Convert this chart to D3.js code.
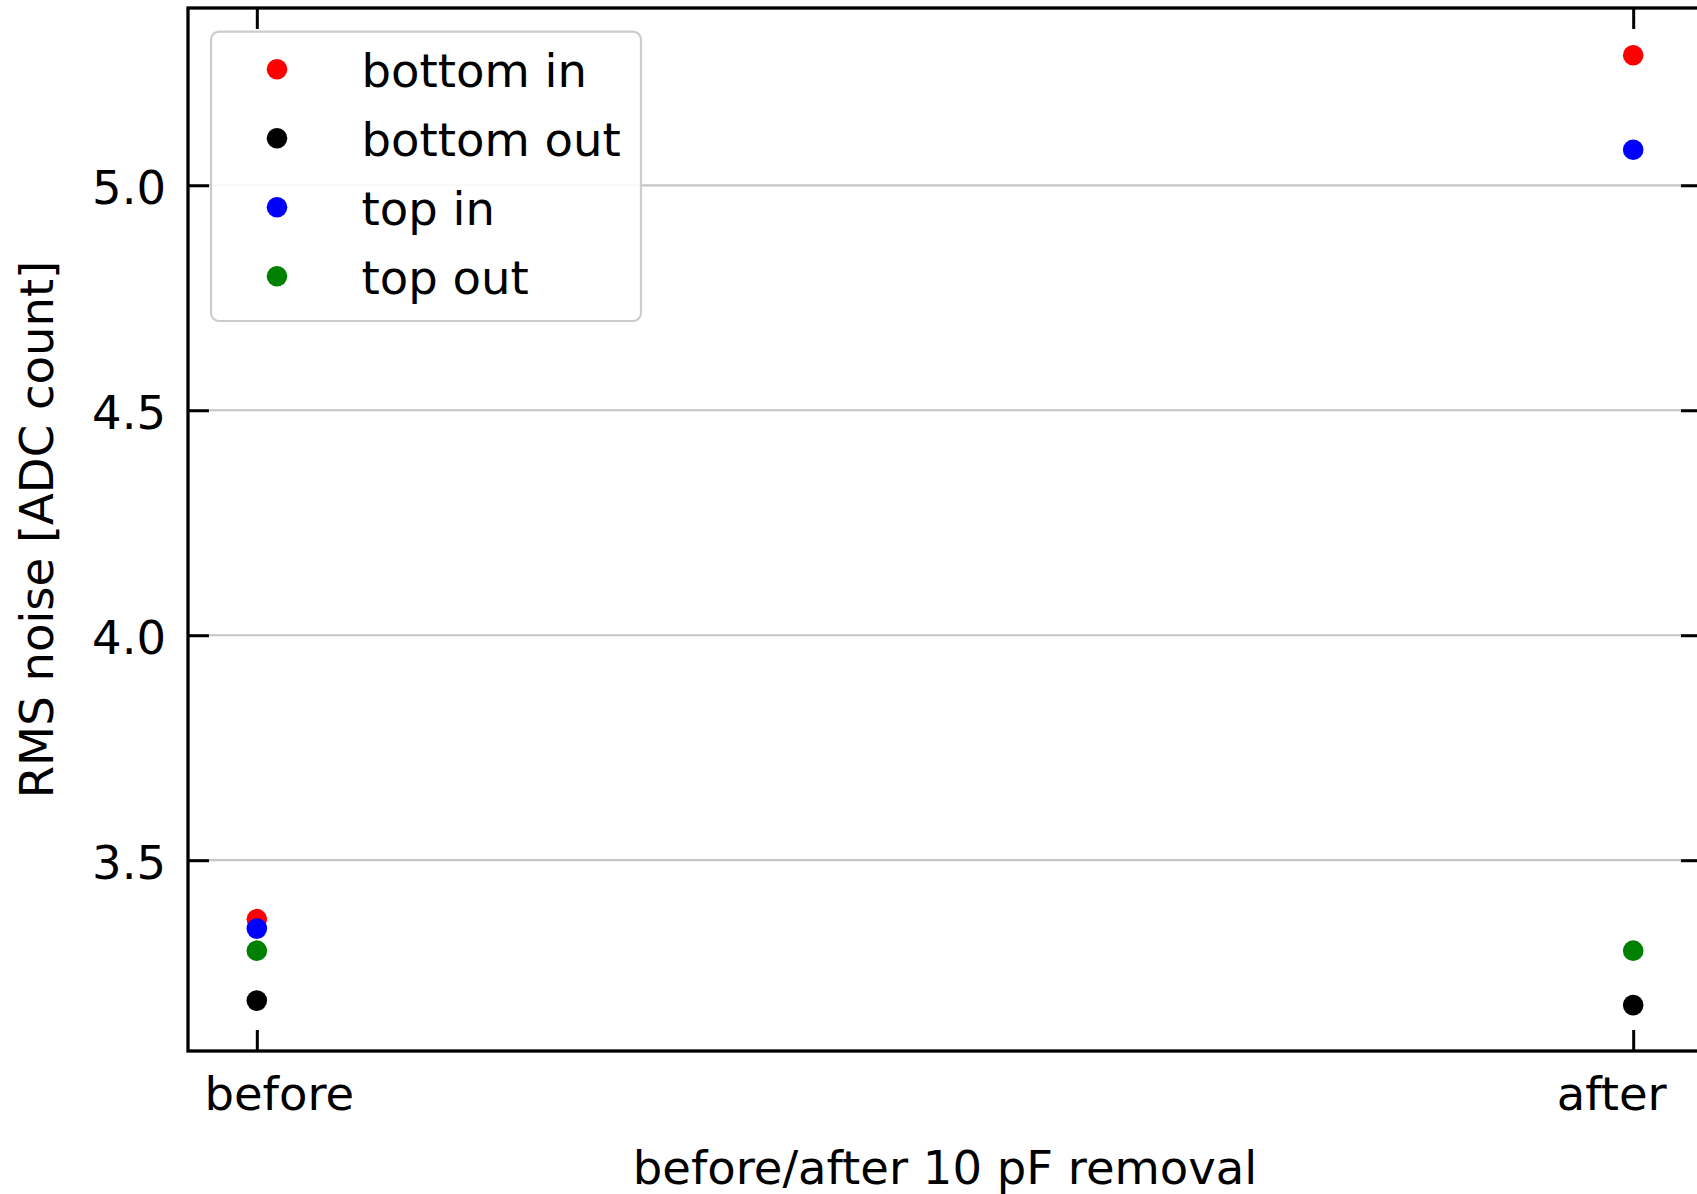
<!DOCTYPE html>
<html>
<head>
<meta charset="utf-8">
<script src="https://cdn.jsdelivr.net/npm/d3@7"></script>
<style>
  html, body { margin: 0; padding: 0; background: #fff; }
  svg { display: block; }
  text { font-family: "DejaVu Sans", sans-serif; fill: #000; }
</style>
</head>
<body>
<svg id="chart" width="1697" height="1194"></svg>
<script>
// Measurement conditions on the x axis
const categories = ["before", "after"];

// RMS noise per channel group [ADC count]
const seriesNames = ["bottom in", "bottom out", "top in", "top out"];
const bottomIn  = [3.369, 5.289];
const bottomOut = [3.188, 3.178];
const topIn     = [3.348, 5.079];
const topOut    = [3.299, 3.299];

const yTickValues = [3.5, 4.0, 4.5, 5.0];
const yTickLabels = ["3.5", "4.0", "4.5", "5.0"];

const seriesColors = ["#ff0000", "#000000", "#0000ff", "#008000"];
const seriesValues = [bottomIn, bottomOut, topIn, topOut];

const xLabel = "before/after 10 pF removal";
const yLabel = "RMS noise [ADC count]";

// ---- layout ----
const svg = d3.select("#chart");
const plot = { left: 188, right: 1702, top: 8, bottom: 1051 };
const fontSize = 46.5;
const tickLen = 21;
const spineW = 3.3;

const x = d3.scalePoint()
  .domain(categories)
  .range([plot.left, plot.right])
  .padding(0.05);

const y = d3.scaleLinear()
  .domain([3.076, 5.394])
  .range([plot.bottom, plot.top]);

// horizontal grid lines
svg.append("g")
  .selectAll("line")
  .data(yTickValues)
  .join("line")
  .attr("x1", plot.left)
  .attr("x2", plot.right)
  .attr("y1", d => y(d))
  .attr("y2", d => y(d))
  .attr("stroke", "#b0b0b0")
  .attr("stroke-opacity", 0.75)
  .attr("stroke-width", 2.2);

// data points
const points = [];
seriesValues.forEach((vals, si) => {
  vals.forEach((v, ci) => points.push({ cat: categories[ci], v, color: seriesColors[si] }));
});
svg.append("g")
  .selectAll("circle")
  .data(points)
  .join("circle")
  .attr("cx", d => x(d.cat))
  .attr("cy", d => y(d.v))
  .attr("r", 10.3)
  .attr("fill", d => d.color);

// legend
const legend = svg.append("g");
legend.append("rect")
  .attr("x", 211)
  .attr("y", 31.7)
  .attr("width", 430)
  .attr("height", 289.3)
  .attr("rx", 8)
  .attr("fill", "#ffffff")
  .attr("fill-opacity", 0.9)
  .attr("stroke", "#cccccc")
  .attr("stroke-width", 2.2);
const items = legend.selectAll("g.item")
  .data(seriesNames)
  .join("g")
  .attr("class", "item")
  .attr("transform", (d, i) => `translate(0,${i * 69})`);
items.append("circle")
  .attr("cx", 277)
  .attr("cy", 69.3)
  .attr("r", 10.3)
  .attr("fill", (d, i) => seriesColors[i]);
items.append("text")
  .attr("x", 361.5)
  .attr("y", 86.5)
  .attr("font-size", fontSize)
  .text(d => d);

// axes with inward ticks on all four sides
function styleAxis(g) {
  g.selectAll(".domain").remove();
  g.selectAll(".tick line").attr("stroke", "#000").attr("stroke-width", 3);
  g.selectAll(".tick text")
    .attr("font-size", fontSize)
    .attr("font-family", "DejaVu Sans, sans-serif")
    .attr("fill", "#000");
}

const yAxis = svg.append("g")
  .attr("transform", `translate(${plot.left},0)`)
  .call(d3.axisLeft(y)
    .tickValues(yTickValues)
    .tickFormat((d, i) => yTickLabels[i])
    .tickSize(-tickLen)
    .tickPadding(22))
  .call(styleAxis);
yAxis.selectAll(".tick text").attr("dy", "0.40em");

svg.append("g")
  .attr("transform", `translate(${plot.right},0)`)
  .call(d3.axisRight(y).tickValues(yTickValues).tickFormat("").tickSize(-tickLen))
  .call(styleAxis);

const xAxis = svg.append("g")
  .attr("transform", `translate(0,${plot.bottom})`)
  .call(d3.axisBottom(x).tickSize(-tickLen).tickPadding(26))
  .call(styleAxis);
// labels sit slightly inward from their ticks
xAxis.selectAll(".tick text")
  .attr("dx", (d, i) => (i === 0 ? 22 : -22));

svg.append("g")
  .attr("transform", `translate(0,${plot.top})`)
  .call(d3.axisTop(x).tickFormat("").tickSize(-tickLen))
  .call(styleAxis);

// frame
svg.append("rect")
  .attr("x", plot.left)
  .attr("y", plot.top)
  .attr("width", plot.right - plot.left)
  .attr("height", plot.bottom - plot.top)
  .attr("fill", "none")
  .attr("stroke", "#000")
  .attr("stroke-width", spineW);

// axis titles
svg.append("text")
  .attr("x", (plot.left + plot.right) / 2)
  .attr("y", 1183.5)
  .attr("text-anchor", "middle")
  .attr("font-size", fontSize)
  .text(xLabel);

svg.append("text")
  .attr("transform", `translate(53.3,${(plot.top + plot.bottom) / 2}) rotate(-90)`)
  .attr("text-anchor", "middle")
  .attr("font-size", fontSize)
  .text(yLabel);
</script>
</body>
</html>
